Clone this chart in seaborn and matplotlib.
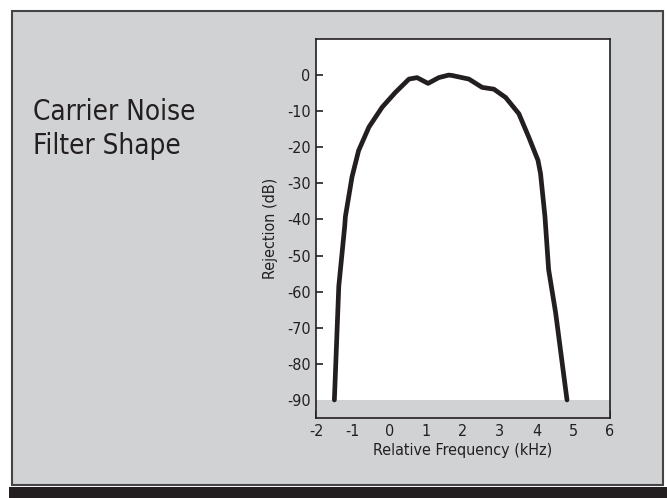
import numpy as np
import pandas as pd
import matplotlib
matplotlib.use("Agg")
import matplotlib.pyplot as plt
import seaborn as sns
from matplotlib.patches import Rectangle

# filter response
freq_khz = [-1.50, -1.38, -1.22, -1.20, -1.02, -0.84, -0.56, -0.20, 0.16, 0.53, 0.75,
            1.05, 1.34, 1.61, 1.70, 2.16, 2.52, 2.84, 3.16, 3.52, 3.79, 4.04,
            4.11, 4.23, 4.33, 4.52, 4.83]
rejection_db = [-90.0, -58.5, -42.0, -39.2, -28.2, -20.9, -14.4, -8.9, -4.8, -1.1, -0.7,
                -2.3, -0.7, 0.0, -0.1, -1.1, -3.4, -3.9, -6.2, -10.7, -17.2, -23.6,
                -27.3, -39.2, -53.9, -65.8, -90.0]
x_ticks = [-2, -1, 0, 1, 2, 3, 4, 5, 6]
y_ticks = [0, -10, -20, -30, -40, -50, -60, -70, -80, -90]
title_text = "Carrier Noise\nFilter Shape"

sns.set_theme(style="white")
plt.rcParams['font.family'] = ['DejaVu Sans Condensed', 'Liberation Sans Narrow', 'DejaVu Sans']
plt.rcParams['font.stretch'] = 'condensed'
plt.rcParams['axes.unicode_minus'] = False

df = pd.DataFrame({'freq': freq_khz, 'rej': rejection_db})

fig = plt.figure(figsize=(6.67, 4.98), dpi=100, facecolor='white')

# gray panel with dark border and black strip at the bottom
W, H = 667.0, 498.0
fig.patches.append(Rectangle((12 / W, 1 - 485 / H), (663 - 12) / W, (485 - 11) / H,
                             transform=fig.transFigure, facecolor='#d1d2d4',
                             edgecolor='#444444', linewidth=1.5, zorder=-2))
fig.patches.append(Rectangle((9 / W, 0), (667 - 9) / W, 11 / H,
                             transform=fig.transFigure, facecolor='#231f20',
                             edgecolor='none', zorder=-2))

ax = fig.add_axes([316 / W, 1 - 418 / H, (610 - 316) / W, (418 - 39) / H])
ax.set_facecolor('white')

ax.axhspan(-95, -90, color='#d1d2d4', lw=0, zorder=1)
sns.lineplot(data=df, x='freq', y='rej', sort=False, color='#231f20',
             linewidth=3.4, ax=ax, zorder=3)
ax.lines[-1].set_solid_joinstyle('round')

ax.set_xlim(-2, 6)
ax.set_ylim(-95, 10)
ax.set_xticks(x_ticks)
ax.set_yticks(y_ticks)
ax.tick_params(axis='both', which='major', direction='in', length=5, width=1.2,
               color='#231f20', labelsize=11.5, labelcolor='#231f20', pad=4,
               bottom=True, left=True, top=False, right=False)
for t in ax.xaxis.get_major_ticks() + ax.yaxis.get_major_ticks():
    t.tick1line.set_visible(True)
    t.tick1line.set_markeredgecolor('#231f20')
    t.tick1line.set_zorder(5)
# no visible tick over the gray band at -90
ax.yaxis.get_major_ticks()[-1].tick1line.set_visible(False)
for s in ax.spines.values():
    s.set_color('#231f20')
    s.set_linewidth(1.2)

ax.set_xlabel('Relative Frequency (kHz)', fontsize=11.5, color='#231f20', labelpad=3)
ax.set_ylabel('Rejection (dB)', fontsize=11.5, color='#231f20', labelpad=6)

fig.text(33 / W, 1 - 98 / H, title_text, fontsize=20, color='#231f20',
         fontweight='medium', va='top', ha='left', linespacing=1.25)

fig.savefig('out.png', dpi=100, facecolor='white')
